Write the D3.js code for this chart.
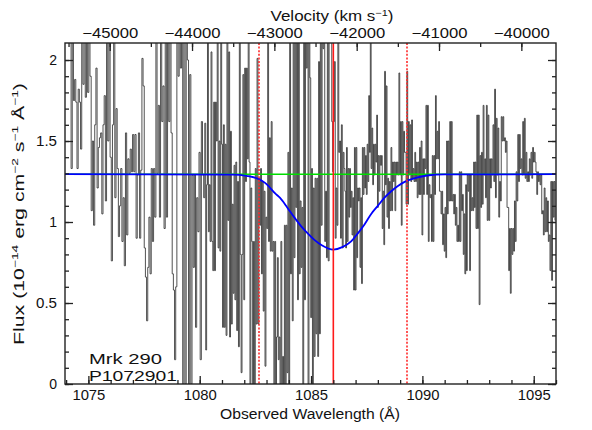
<!DOCTYPE html>
<html><head><meta charset="utf-8">
<script src="https://cdn.jsdelivr.net/npm/d3@7"></script>
<style>
body{margin:0;background:#fff}
svg{display:block}
text{font-family:"Liberation Sans",Arial,sans-serif;fill:#111}
</style>
</head><body><svg id="c" width="592" height="430"></svg>
<script>
// ---------- data ----------
// wavelength edges (Å) of the consecutive pieces of the observed spectrum
const segEdges = [1074.17, 1077.09, 1080.23, 1083.37, 1086.52, 1089.66, 1092.80, 1095.99];
// flux (1e-14 erg cm^-2 s^-1 Å^-1), one array per piece
const flux1 = [2.2,1.33,2.2,1.75, 1.88,1.74,1.33,1.82, 1.74,1.45, 2.2,1.85,2.2, 1.77,2.2,1.8,2.2, 1.9,1.07,1.5, 0.98,1.6, 1.95,1.21, 1.46,1.52,1.55, 1.05,1.6, 1.78,1.13, 2.2,1.5,2.2,1.4, 0.76,1.6, 2.2,1.15, 1.7,1.33, 0.91,1.1, 1.33,0.88, 1.15,0.73, 1.55,0.92, 1.39,1.3,1.45, 1.31,1.54,1.31];
const flux2 = [1.54,0.90,1.29, 1.55,0.90,1.32, 2.01, 1.84,0.84, 0.66,0.39,0.72, 1.03,0.68, 1.33,0.88, 1.33,1.03, 2.2,1.3,1.72,1.03, 2.2,1.62, 1.84,0.96, 2.2,1.03, 2.2,1.62,2.2,1.55, 0.68, 0.58,0.15,0.6, 2.2,1.9, 2.2,1.95, 2.2,0.0,2.2, 0.0,2.2, 2.0,0.0, 1.91,0.0, 1.29,0.72, 1.29,0.35, 1.15,0.94, 1.43,0.15, 1.62,1.29,1.15];
const flux3 = [1.61,0.21,1.23, 2.2,0.94,1.23,0.88, 2.05,0.88,0.70, 1.74,0.70, 1.74,1.50,2.2,0.84, 1.50,0.82, 2.2,1.48,0.35, 1.60,0.35, 1.48,0.30, 2.2,1.01,2.05,0.29, 1.56,0.37,1.11,0.56, 1.35,0.52, 1.37,0.33, 1.25,0.23,2.2,0.80, 0.07,0.80, 1.91,0.52, 1.95,1.25, 1.95,1.39, 2.2,1.37, 0.0,1.21,0.88,0.0, 0.88,0.0,1.33,0.37, 2.01,0.37, 1.27,0.98, 1.33,0.68, 1.25,0.45, 1.19,0.11, 1.03,0.96, 2.2,0.88, 1.52,0.82, 1.62,0.82, 0.88,0.0];
const flux4 = [0.88,0.0,0.29, 0.78,0.15,0.29,0.0, 0.88,0.0, 0.17,0.0, 0.98,0.0,0.98, 0.07, 1.43,0.0, 2.2,0.68, 1.21,0.39, 2.2,0.78, 2.2,1.09, 2.2,0.52, 2.2,0.68,1.13,0.72, 1.09,0.0, 2.2,0.52, 2.2,1.95, 2.2,0.0,2.2,1.89, 0.41, 1.33,0.0, 1.21,0.17, 1.27,0.31, 1.27,0.17, 1.99,0.31, 2.2,0.98, 2.2,2.07, 2.2,0.88,1.19,0.78, 2.2,0.76, 2.2,2.2,2.2, 1.62,1.31,1.62, 1.99,0.90, 1.21,0.98, 2.2,1.43, 1.50,0.90, 1.60,0.84,1.43,1.33];
const flux5 = [1.19,0.84, 1.46,0.88,1.33,1.03, 1.33,1.09, 1.19,0.92, 1.15,0.58, 1.46,0.58, 1.46,0.78, 1.21,1.13, 1.21,0.72, 1.15,0.62, 1.46,1.17, 1.46,1.21, 1.41,1.17, 1.48,1.25, 1.78,1.43, 2.2,1.33, 1.58,1.23, 1.48,1.29, 1.48,1.37, 1.66,1.09, 1.41,1.19, 1.41,1.35, 1.41,0.96, 1.19,0.86, 1.93,1.23, 1.84,1.03, 1.27,0.96, 1.25,1.07, 1.46,1.07, 1.37,1.25, 1.37,1.07, 1.37,1.29, 1.37,1.29, 1.92,1.29, 1.62,0.98, 1.62,1.29, 1.56,1.43, 1.43,1.11, 1.93,1.11, 1.62,1.29, 1.60,1.25, 1.63,1.27, 1.33,1.25];
const flux6 = [1.43,1.25, 1.37,1.15, 1.37,1.17, 1.46,1.17, 1.50,0.92, 1.39,1.17, 1.39,1.33, 1.72,1.17, 1.72,0.88,1.23,1.15, 1.17,0.88, 1.41,0.88, 1.41,1.17, 1.78,1.39, 1.56,1.39, 1.62,1.19, 1.19,1.05, 1.19,0.86, 1.05,0.82, 1.09,0.78, 1.50,1.05, 1.50,1.13, 1.62,1.13, 1.62,1.13, 1.17,1.05, 1.17,0.98, 1.09,0.88, 0.98,0.88, 1.31,0.88, 1.31,1.07, 1.17,0.80, 1.05,0.68, 1.23,0.70, 1.29,1.19, 1.29,0.70, 1.29,1.07, 1.15,1.07, 1.37,1.09, 1.37,0.96, 1.66,0.96, 1.66,0.49, 1.41,1.09, 1.43,1.11, 1.72,1.29];
const flux7 = [1.39,1.15, 1.72,1.01, 1.66,1.01, 1.39,1.21, 1.39,1.29, 1.60,1.25, 1.82,1.15, 1.64,1.29, 1.58,1.03, 1.25,1.13, 1.65,1.50, 1.65,1.50, 1.52,1.43, 1.50,1.09, 1.09,0.70, 0.96,0.56, 0.96,0.80, 0.96,0.82, 1.13,0.88, 1.31,1.13, 1.54,1.25, 1.54,1.33, 1.39,1.29, 1.62,1.29, 1.64,1.27, 1.43,1.25, 1.31,1.25, 1.39,1.29, 1.43,1.27, 1.46,1.37, 1.43,1.37, 1.31,1.17, 1.31,1.25, 1.29,1.23, 1.29,1.05, 1.07,0.92, 1.21,0.94, 1.15,0.94, 1.13,0.88, 0.92,0.70, 1.25,0.64, 1.25,1.03, 1.25,1.01];

// fitted absorption model (blue) and continuum (green)
const modelWave = [1073.9, 1081.5, 1082.1, 1082.6, 1082.95, 1083.4, 1083.6, 1083.93, 1084.24, 1084.55, 1084.85, 1085.15, 1085.5, 1086.0, 1086.4, 1086.8, 1087.1, 1087.4, 1087.7, 1088.0, 1088.3, 1088.6, 1088.9, 1089.2, 1089.7, 1090.2, 1091.0, 1096.1];
const modelFlux = [1.295, 1.293, 1.285, 1.268, 1.24, 1.175, 1.15, 1.09, 1.03, 0.975, 0.93, 0.89, 0.855, 0.83, 0.845, 0.88, 0.93, 0.985, 1.05, 1.10, 1.15, 1.19, 1.222, 1.248, 1.272, 1.287, 1.294, 1.295];
const continuumLevel = 1.295;
const lineCenter = 1086.0;
const lineLimits = [1082.67, 1089.33];

const waveMajor = [1075, 1080, 1085, 1090, 1095];
const fluxMajor = [0, 0.5, 1, 1.5, 2];
const velMajor = [-45000, -44000, -43000, -42000, -41000, -40000];
const labelLines = ["Mrk 290", "P1072901"];

// ---------- layout ----------
const L = 65, R = 556, T = 43, B = 384;
const svg = d3.select("#c");
const x = d3.scaleLinear().domain([1073.95, 1096.0]).range([L, R]);
const y = d3.scaleLinear().domain([0, 2.105]).range([B, T]);
const v = d3.scaleLinear().domain([-45543, -39579]).range([L, R]);

svg.append("defs").append("clipPath").attr("id", "clip")
  .append("rect").attr("x", L).attr("y", T).attr("width", R - L).attr("height", B - T);

// spectrum points
const segs = [flux1, flux2, flux3, flux4, flux5, flux6, flux7];
const spec = [];
segs.forEach((arr, k) => {
  const w0 = segEdges[k], w1 = segEdges[k + 1], dw = (w1 - w0) / arr.length;
  arr.forEach((f, i) => spec.push({w: w0 + (i + 0.5) * dw, f}));
});

const plot = svg.append("g").attr("clip-path", "url(#clip)");
plot.append("path").datum(spec)
  .attr("d", d3.line().x(d => x(d.w)).y(d => y(d.f)).curve(d3.curveStep))
  .attr("fill", "none").attr("stroke", "#333").attr("stroke-width", 0.85);

plot.append("line").attr("x1", L).attr("x2", R)
  .attr("y1", y(continuumLevel)).attr("y2", y(continuumLevel))
  .attr("stroke", "#00dd00").attr("stroke-width", 1.5);

plot.append("path").datum(modelWave.map((w, i) => [w, modelFlux[i]]))
  .attr("d", d3.line().x(d => x(d[0])).y(d => y(d[1])).curve(d3.curveMonotoneX))
  .attr("fill", "none").attr("stroke", "#0000ff").attr("stroke-width", 1.8);

plot.append("line").attr("x1", x(lineCenter)).attr("x2", x(lineCenter))
  .attr("y1", T).attr("y2", B).attr("stroke", "#ff1a1a").attr("stroke-width", 1.6);
lineLimits.forEach(w => plot.append("line").attr("x1", Math.round(x(w))).attr("x2", Math.round(x(w)))
  .attr("y1", T).attr("y2", B).attr("stroke", "#ff2a2a").attr("stroke-width", 1.6)
  .attr("stroke-dasharray", "2,1.6"));

// ---------- axes ----------
function styleAxis(g, widths) {
  g.select(".domain").remove();
  g.selectAll(".tick line").attr("stroke", "#222").attr("stroke-width", 1.3);
  g.selectAll("text").attr("font-size", 14).attr("font-family", '"Liberation Sans",Arial,sans-serif').attr("fill", "#111");
  if (widths) g.selectAll("text").each(function () {
    const n = this.textContent.length;
    if (widths[n]) d3.select(this).attr("textLength", widths[n]).attr("lengthAdjust", "spacingAndGlyphs");
  });
}
// bottom
svg.append("g").attr("transform", `translate(0,${B})`)
  .call(d3.axisBottom(x).tickValues(d3.range(1074, 1097)).tickSize(-4).tickSizeOuter(0).tickFormat(""))
  .call(styleAxis);
svg.append("g").attr("transform", `translate(0,${B})`)
  .call(d3.axisBottom(x).tickValues(waveMajor).tickSize(-8).tickSizeOuter(0).tickPadding(6).tickFormat(d3.format("d")))
  .call(g => styleAxis(g, {4: 33}));
// top (velocity)
svg.append("g").attr("transform", `translate(0,${T})`)
  .call(d3.axisTop(v).tickValues(d3.range(-45500, -39500, 500)).tickSize(-4).tickSizeOuter(0).tickFormat(""))
  .call(styleAxis);
svg.append("g").attr("transform", `translate(0,${T})`)
  .call(d3.axisTop(v).tickValues(velMajor).tickSize(-8).tickSizeOuter(0).tickPadding(5).tickFormat(d => "\u2212" + Math.abs(d)))
  .call(g => styleAxis(g, {6: 56}));
// left
svg.append("g").attr("transform", `translate(${L},0)`)
  .call(d3.axisLeft(y).tickValues(d3.range(0, 21).map(d => d / 10)).tickSize(-4).tickSizeOuter(0).tickFormat(""))
  .call(styleAxis);
svg.append("g").attr("transform", `translate(${L},0)`)
  .call(d3.axisLeft(y).tickValues(fluxMajor).tickSize(-8).tickSizeOuter(0).tickPadding(8).tickFormat(d => String(d)))
  .call(g => styleAxis(g, {3: 21}));
// right
svg.append("g").attr("transform", `translate(${R},0)`)
  .call(d3.axisRight(y).tickValues(d3.range(0, 21).map(d => d / 10)).tickSize(-4).tickSizeOuter(0).tickFormat(""))
  .call(styleAxis);
svg.append("g").attr("transform", `translate(${R},0)`)
  .call(d3.axisRight(y).tickValues(fluxMajor).tickSize(-8).tickSizeOuter(0).tickFormat(""))
  .call(styleAxis);

svg.append("rect").attr("x", L).attr("y", T).attr("width", R - L).attr("height", B - T)
  .attr("fill", "none").attr("stroke", "#222").attr("stroke-width", 1.4);

// ---------- titles ----------
svg.append("text").attr("x", 310).attr("y", 419).attr("text-anchor", "middle")
  .attr("font-size", 14).attr("textLength", 180).attr("lengthAdjust", "spacingAndGlyphs")
  .text("Observed Wavelength (Å)");

const tt = svg.append("text").attr("x", 332).attr("y", 21).attr("text-anchor", "middle")
  .attr("font-size", 14).attr("textLength", 123).attr("lengthAdjust", "spacingAndGlyphs");
tt.append("tspan").text("Velocity (km s");
tt.append("tspan").attr("font-size", 9).attr("dy", -5).text("\u22121");
tt.append("tspan").attr("dy", 5).text(")");

const yt = svg.append("text").attr("transform", "translate(24,214) rotate(-90)")
  .attr("text-anchor", "middle").attr("font-size", 14)
  .attr("textLength", 262).attr("lengthAdjust", "spacingAndGlyphs");
const parts = [["Flux (10", 0], ["\u221214", 1], [" erg cm", 0], ["\u22122", 1], [" s", 0], ["\u22121", 1], [" Å", 0], ["\u22121", 1], [")", 0]];
let up = false;
parts.forEach(([s, sup]) => {
  const t = yt.append("tspan").text(s);
  if (sup) { t.attr("font-size", 9).attr("dy", up ? 0 : -6); up = true; }
  else { t.attr("dy", up ? 6 : 0); up = false; }
});

// object labels
svg.append("text").attr("x", 89).attr("y", 364).attr("font-size", 15)
  .attr("textLength", 73).attr("lengthAdjust", "spacingAndGlyphs").text(labelLines[0]);
svg.append("text").attr("x", 89).attr("y", 381).attr("font-size", 15)
  .attr("textLength", 88).attr("lengthAdjust", "spacingAndGlyphs").text(labelLines[1]);
</script>
</body></html>
